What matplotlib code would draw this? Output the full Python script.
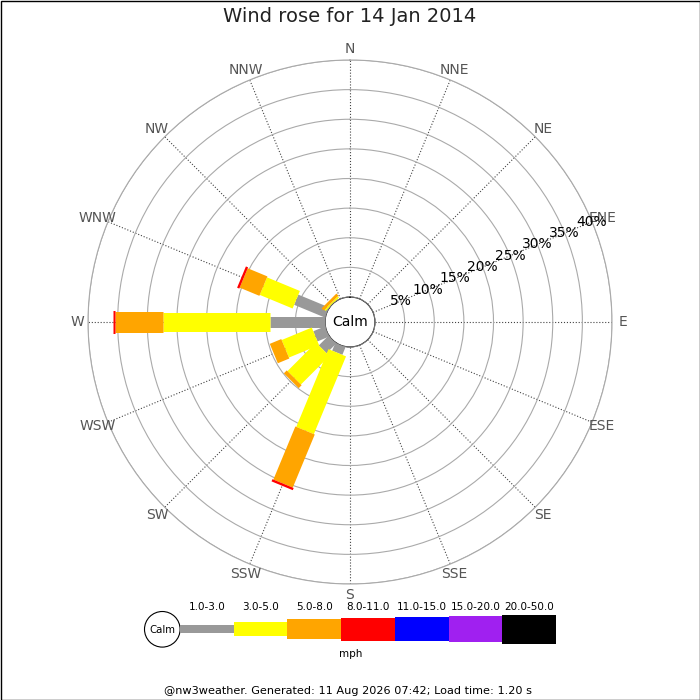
import numpy as np
import matplotlib
matplotlib.use("Agg")
import matplotlib.pyplot as plt
from matplotlib.patches import Circle, Rectangle

# data (percent of time per direction / speed bin)
directions = ["N", "NNE", "NE", "ENE", "E", "ESE", "SE", "SSE",
              "S", "SSW", "SW", "WSW", "W", "WNW", "NW", "NNW"]
speed_bins = ["1.0-3.0", "3.0-5.0", "5.0-8.0", "8.0-11.0",
              "11.0-15.0", "15.0-20.0", "20.0-50.0"]
#             N  NNE NE ENE E  ESE SE SSE S  SSW   SW   WSW  W     WNW  NW   NNW
freq_1_3   = [0, 0,  0, 0,  0, 0,  0, 0,  0, 1.4,  2.3, 2.1, 9.3,  5.6, 0.0, 0]
freq_3_5   = [0, 0,  0, 0,  0, 0,  0, 0,  0, 14.2, 6.8, 5.5, 18.0, 6.0, 0.3, 0]
freq_5_8   = [0, 0,  0, 0,  0, 0,  0, 0,  0, 9.7,  0.7, 2.1, 8.1,  3.6, 0.5, 0]
freq_8_11  = [0, 0,  0, 0,  0, 0,  0, 0,  0, 0.4,  0,   0,   0.35, 0.4, 0,   0]
freq_11_15 = [0, 0,  0, 0,  0, 0,  0, 0,  0, 0,    0,   0,   0,    0,   0,   0]
freq_15_20 = [0, 0,  0, 0,  0, 0,  0, 0,  0, 0,    0,   0,   0,    0,   0,   0]
freq_20_50 = [0, 0,  0, 0,  0, 0,  0, 0,  0, 0,    0,   0,   0,    0,   0,   0]
ring_pcts = [5, 10, 15, 20, 25, 30, 35, 40]

title = "Wind rose for 14 Jan 2014"
footer = "@nw3weather. Generated: 11 Aug 2026 07:42; Load time: 1.20 s"

freqs = [freq_1_3, freq_3_5, freq_5_8, freq_8_11, freq_11_15, freq_15_20, freq_20_50]
colors = ["#999999", "#ffff00", "#ffa500", "#ff0000", "#0000ff", "#a020f0", "#000000"]
bar_px = [11, 19, 21, 23, 24, 26, 29]          # bar thickness in the rose (pixels)
legend_px = [8.3, 14.3, 20.3, 23, 24.3, 26.3, 28.7]

px_per_pct = 5.925
calm_px = 25

fig = plt.figure(figsize=(7, 7), dpi=100)

# rose
ax = fig.add_axes([88 / 700, 116 / 700, 524 / 700, 524 / 700], projection="polar")
ax.set_theta_zero_location("N")
ax.set_theta_direction(-1)
ax.set_ylim(0, 40)
ax.set_rorigin(-calm_px / px_per_pct)
theta = np.deg2rad(np.arange(len(directions)) * 360 / len(directions))
ax.set_xticks(theta)
ax.set_xticklabels([])
ax.set_yticks(ring_pcts)
ax.set_yticklabels([])
ax.tick_params(length=0)
ax.xaxis.grid(True, color="#444444", ls=":", lw=0.8)
ax.yaxis.grid(True, color="#aaaaaa", ls="-", lw=0.8)
ax.spines["polar"].set_color("#aaaaaa")
ax.spines["polar"].set_linewidth(0.8)
ax.spines["inner"].set_visible(False)

cum = np.zeros(len(directions))
for vals, col, w in zip(freqs, colors, bar_px):
    vals = np.array(vals, dtype=float)
    for i in range(len(directions)):
        if vals[i] > 0:
            ax.plot([theta[i], theta[i]], [cum[i], cum[i] + vals[i]], color=col,
                    lw=w * 0.72, solid_capstyle="butt", zorder=3)
    cum += vals

ax.add_patch(Circle((0.5, 0.5), calm_px / 524, transform=ax.transAxes,
                    facecolor="white", edgecolor="#999999", lw=0.8, zorder=4))
ax.text(0.5, 0.5, "Calm", transform=ax.transAxes, ha="center", va="center",
        fontsize=10, zorder=5)

for i, d in enumerate(directions):
    ax.text(theta[i], 40 + 11 / px_per_pct, d, ha="center", va="center",
            color="#555555", fontsize=10)
for p in ring_pcts:
    ax.text(np.deg2rad(67.5), p, f"{p}%", ha="center", va="center", fontsize=10, zorder=5)

# overlay: title, legend, footer, border
ax2 = fig.add_axes([0, 0, 1, 1])
ax2.set_xlim(0, 700)
ax2.set_ylim(700, 0)
ax2.axis("off")
ax2.text(350, 16, title, ha="center", va="center", fontsize=14, color="#222222")

ax2.add_patch(Circle((162.3, 629.3), 17.8, facecolor="white", edgecolor="black", lw=0.8))
ax2.text(162.3, 629.8, "Calm", ha="center", va="center", fontsize=7.3)
x0, step = 180, 53.7
for k, (lab, col, h) in enumerate(zip(speed_bins, colors, legend_px)):
    ax2.add_patch(Rectangle((x0 + k * step, 629.3 - h / 2), step, h, facecolor=col, edgecolor="none"))
    ax2.text(x0 + (k + 0.5) * step, 607.5, lab, ha="center", va="center", fontsize=7.5)
ax2.text(351, 654, "mph", ha="center", va="center", fontsize=7.5)
ax2.text(348, 691, footer, ha="center", va="center", fontsize=8.1)
ax2.add_patch(Rectangle((0.5, 0.5), 699, 699, facecolor="none", edgecolor="black", lw=1.0))

fig.savefig("out.png", dpi=100)
